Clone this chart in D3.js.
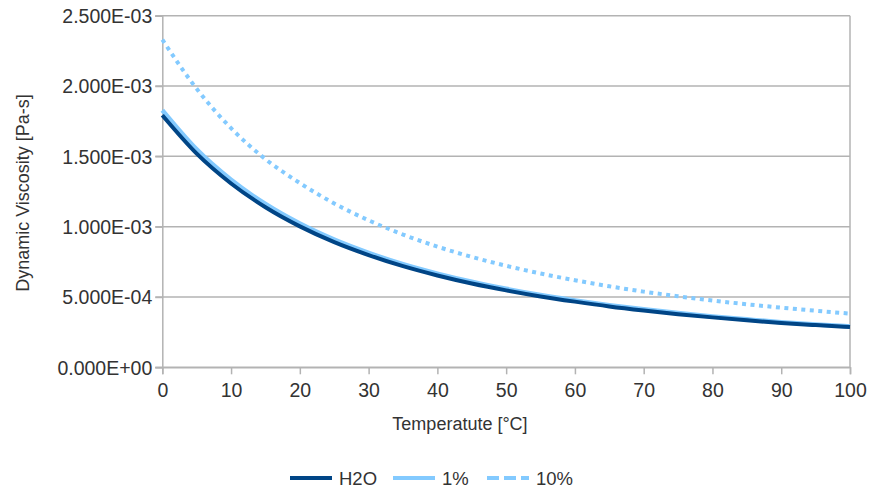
<!DOCTYPE html>
<html><head><meta charset="utf-8">
<script src="https://cdn.jsdelivr.net/npm/d3@7"></script>
<style>body{margin:0;background:#fff}svg{display:block}text{font-family:"Liberation Sans",Arial,sans-serif;fill:#333}</style>
</head><body><svg id="c" width="870" height="489"></svg>
<script>
const temps = [0,5,10,15,20,25,30,35,40,45,50,55,60,65,70,75,80,85,90,95,100];
const h2o = [1.792e-3,1.519e-3,1.307e-3,1.138e-3,1.002e-3,0.890e-3,0.798e-3,0.719e-3,0.653e-3,0.596e-3,0.547e-3,0.504e-3,0.467e-3,0.433e-3,0.404e-3,0.378e-3,0.355e-3,0.334e-3,0.315e-3,0.300e-3,0.287e-3];
const pct1 = [1.828e-3,1.549e-3,1.333e-3,1.161e-3,1.022e-3,0.908e-3,0.814e-3,0.733e-3,0.666e-3,0.608e-3,0.558e-3,0.514e-3,0.476e-3,0.442e-3,0.412e-3,0.386e-3,0.362e-3,0.341e-3,0.321e-3,0.305e-3,0.291e-3];
const pct10 = [2.33e-3,1.98e-3,1.70e-3,1.48e-3,1.31e-3,1.165e-3,1.045e-3,0.944e-3,0.858e-3,0.785e-3,0.722e-3,0.667e-3,0.619e-3,0.576e-3,0.538e-3,0.505e-3,0.475e-3,0.448e-3,0.424e-3,0.402e-3,0.382e-3];
const xTicks = [0,10,20,30,40,50,60,70,80,90,100];
const yTicks = [0,0.5e-3,1.0e-3,1.5e-3,2.0e-3,2.5e-3];
const seriesNames = ["H2O","1%","10%"];

const svg = d3.select("#c");
const L=162.3,R=850,T=15.7,B=367.3;
const x = d3.scaleLinear().domain([0,100]).range([L,R]);
const y = d3.scaleLinear().domain([0,2.5e-3]).range([B,T]);
const grid="#b3b3b3";
const fmt = v => { const s=v.toExponential(3).toUpperCase(); return s.replace(/E([+-])(\d)$/,"E$10$2"); };

svg.append("g").selectAll("line").data(yTicks).join("line")
 .attr("x1",L-7).attr("x2",R).attr("y1",d=>y(d)).attr("y2",d=>y(d))
 .attr("stroke",grid).attr("stroke-width",1.5);
svg.append("line").attr("x1",R).attr("x2",R).attr("y1",T).attr("y2",B).attr("stroke",grid).attr("stroke-width",1.5);
const xa = svg.append("g").attr("transform",`translate(0,${B})`)
 .call(d3.axisBottom(x).tickValues(xTicks).tickSize(7).tickPadding(9).tickFormat(d3.format("d")));
const ya = svg.append("g").attr("transform",`translate(${L},0)`)
 .call(d3.axisLeft(y).tickValues(yTicks).tickSize(7).tickPadding(3).tickFormat(fmt));
[xa,ya].forEach(a=>{a.selectAll("path,line").attr("stroke",grid).attr("stroke-width",1.5);
 a.selectAll("text").attr("font-size",19.5).attr("font-family","Liberation Sans, Arial, sans-serif").attr("fill","#333");});
ya.selectAll("text").attr("dy","0.35em");

svg.append("text").attr("x",460).attr("y",430).attr("text-anchor","middle").attr("font-size",18).text("Temperatute [°C]");
svg.append("text").attr("transform",`translate(29,193) rotate(-90)`).attr("text-anchor","middle").attr("font-size",18).text("Dynamic Viscosity [Pa-s]");

const line = vals => d3.line().x((d,i)=>x(temps[i])).y(d=>y(d)).curve(d3.curveMonotoneX)(vals);
svg.append("path").attr("d",line(pct1)).attr("fill","none").attr("stroke","#83caff").attr("stroke-width",4.5);
svg.append("path").attr("d",line(h2o)).attr("fill","none").attr("stroke","#004586").attr("stroke-width",4);
svg.append("path").attr("d",line(pct10)).attr("fill","none").attr("stroke","#83caff").attr("stroke-width",4).attr("stroke-dasharray","4,4.5");

const leg = [{n:seriesNames[0],c:"#004586",d:null,x:290},{n:seriesNames[1],c:"#83caff",d:null,x:393},{n:seriesNames[2],c:"#83caff",d:"12,5",x:487}];
const lg = svg.append("g");
leg.forEach(o=>{
 lg.append("line").attr("x1",o.x).attr("x2",o.x+42).attr("y1",478).attr("y2",478).attr("stroke",o.c).attr("stroke-width",4).attr("stroke-dasharray",o.d);
 lg.append("text").attr("x",o.x+49).attr("y",484.5).attr("font-size",18.5).attr("font-family","Lato, sans-serif").text(o.n);
});
</script></body></html>
